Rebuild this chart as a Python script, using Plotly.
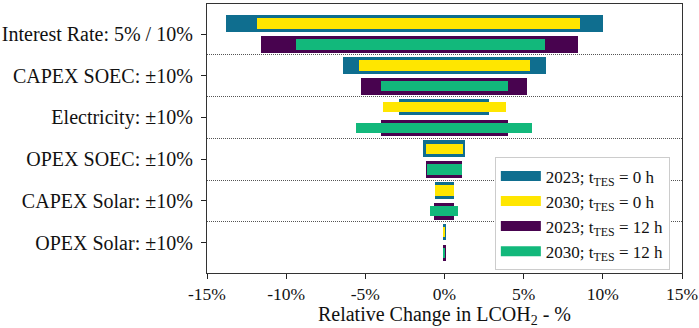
import plotly.graph_objects as go

# ---------------- data ----------------
categories = [
    "Interest Rate: 5% / 10%",
    "CAPEX SOEC: ±10%",
    "Electricity: ±10%",
    "OPEX SOEC: ±10%",
    "CAPEX Solar: ±10%",
    "OPEX Solar: ±10%",
]
series_names = [
    "2023; t<sub>TES</sub> = 0 h",
    "2030; t<sub>TES</sub> = 0 h",
    "2023; t<sub>TES</sub> = 12 h",
    "2030; t<sub>TES</sub> = 12 h",
]
low_2023_0h = [-13.83, -6.44, -2.86, -1.36, -0.61, -0.07]
high_2023_0h = [10.0, 6.42, 2.82, 1.31, 0.59, 0.07]
low_2030_0h = [-11.85, -5.43, -3.90, -1.18, -0.60, -0.05]
high_2030_0h = [8.57, 5.43, 3.86, 1.14, 0.58, 0.05]
low_2023_12h = [-11.60, -5.30, -4.00, -1.14, -0.67, -0.07]
high_2023_12h = [8.40, 5.24, 3.98, 1.10, 0.61, 0.07]
low_2030_12h = [-9.40, -4.00, -5.56, -1.12, -0.90, -0.05]
high_2030_12h = [6.34, 3.98, 5.50, 1.08, 0.87, 0.05]

x_tick_values = [-15, -10, -5, 0, 5, 10, 15]
x_tick_labels = ["-15%", "-10%", "-5%", "0%", "5%", "10%", "15%"]

# ---------------- style ----------------
colors = ["#0f6e8f", "#ffe600", "#48034f", "#12b87b"]
row_offset = [-0.25, -0.25, 0.25, 0.25]
bar_width = [0.4, 0.25, 0.4, 0.25]
FONT = "Liberation Serif, Times New Roman, serif"

lows = [low_2023_0h, low_2030_0h, low_2023_12h, low_2030_12h]
highs = [high_2023_0h, high_2030_0h, high_2023_12h, high_2030_12h]

fig = go.Figure()
idx = list(range(len(categories)))
for k in range(4):
    fig.add_trace(go.Bar(
        orientation="h",
        y=[i + row_offset[k] for i in idx],
        base=lows[k],
        x=[h - l for h, l in zip(highs[k], lows[k])],
        width=bar_width[k],
        marker=dict(color=colors[k], line=dict(width=0)),
        name=series_names[k],
        legendgroup=str(k),
        showlegend=False,
        hovertemplate="%{base:.2f}% to %{x:.2f}%<extra></extra>",
    ))

# legend entries (wide swatches)
for k in range(4):
    fig.add_trace(go.Scatter(
        x=[None], y=[None], mode="lines",
        line=dict(color=colors[k], width=11),
        name=series_names[k], legendgroup=str(k), showlegend=True,
    ))

fig.update_layout(
    width=699, height=328,
    margin=dict(l=207, r=17, t=4, b=55),
    barmode="overlay",
    bargap=0,
    plot_bgcolor="white",
    paper_bgcolor="white",
    font=dict(family=FONT, color="#111111"),
    legend=dict(
        x=0.606, y=0.43, xanchor="left", yanchor="top",
        bgcolor="white", bordercolor="#cccccc", borderwidth=1,
        font=dict(family=FONT, size=17, color="#111111"),
        itemwidth=40, tracegroupgap=0,
    ),
    showlegend=True,
)
fig.update_xaxes(
    range=[-15, 15], automargin=False,
    tickmode="array", tickvals=x_tick_values, ticktext=x_tick_labels,
    tickfont=dict(family=FONT, size=17.5),
    ticks="outside", ticklen=5, tickwidth=1.2, tickcolor="#222",
    showline=True, linecolor="#333", linewidth=1.3, mirror=True,
    showgrid=False, zeroline=False,
    title=dict(text="Relative Change in LCOH<sub>2</sub> - %",
               font=dict(family=FONT, size=20), standoff=5),
)
fig.update_yaxes(
    range=[5.73, -0.72], automargin=False,
    tickmode="array", tickvals=idx, ticktext=categories,
    tickfont=dict(family=FONT, size=20),
    ticks="outside", ticklen=5, tickwidth=1.2, tickcolor="#222",
    ticklabelstandoff=4,
    showline=True, linecolor="#333", linewidth=1.3, mirror=True,
    showgrid=False, zeroline=False,
    minor=dict(tickmode="array", tickvals=[0.5, 1.5, 2.5, 3.5, 4.5],
               showgrid=True, gridcolor="#555555", griddash="1px,1px",
               gridwidth=1, ticks=""),
)

fig.write_html("out.html", config={"displayModeBar": False},
               post_script="document.body.style.margin='0px';document.body.style.padding='0px';")
